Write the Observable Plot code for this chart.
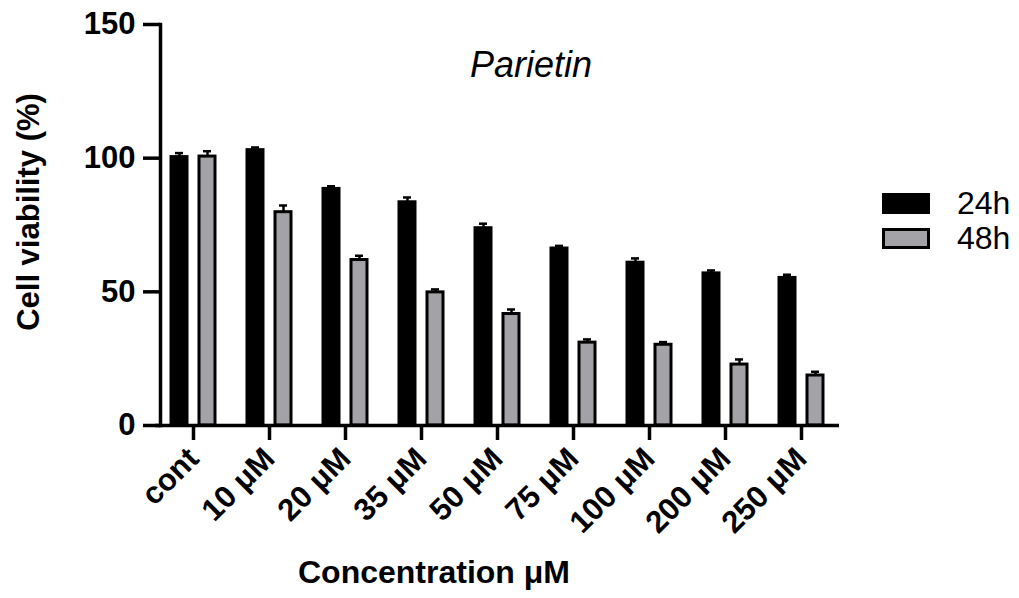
<!DOCTYPE html>
<html><head><meta charset="utf-8">
<script src="https://cdn.jsdelivr.net/npm/d3@7"></script>
<script src="https://cdn.jsdelivr.net/npm/@observablehq/plot@0.6"></script>
<style>
html,body{margin:0;padding:0;background:#fff;}
#chart svg{display:block;}
</style></head><body><div id="chart"></div>
<script>
const concentrations = ["cont","10 μM","20 μM","35 μM","50 μM","75 μM","100 μM","200 μM","250 μM"];
const series = ["24h","48h"];
const viability24 = [100.4, 103.0, 88.5, 83.5, 73.8, 66.2, 60.9, 56.9, 55.2];
const viability48 = [100.6, 79.8, 61.9, 49.8, 41.7, 31.0, 30.2, 22.8, 18.7];
const sem24 = [1.5, 1.0, 1.0, 1.8, 1.7, 1.0, 1.6, 1.1, 1.2];
const sem48 = [2.0, 2.5, 1.6, 1.1, 1.7, 1.2, 1.0, 1.9, 1.4];
const yTicks = [0, 50, 100, 150];
const colors = ["#000000", "#a3a3a7"];

const rows = concentrations.flatMap((c, i) => [
  {conc: c, time: series[0], value: viability24[i], err: sem24[i]},
  {conc: c, time: series[1], value: viability48[i], err: sem48[i]}
]);

const font = "'Liberation Sans', Arial, Helvetica, sans-serif";

const chart = Plot.plot({
  width: 1019, height: 598,
  marginLeft: 155, marginRight: 180, marginTop: 24, marginBottom: 173,
  style: {fontFamily: font, fontSize: "31px", fontWeight: "bold", color: "#000", background: "#fff", overflow: "visible"},
  fx: {domain: concentrations, padding: 0, label: null},
  x: {domain: series, paddingInner: 0.44, paddingOuter: 0.55, axis: null},
  y: {domain: [0, 150], label: null},
  color: {domain: series, range: colors},
  marks: [
    Plot.axisFx({anchor: "bottom", tickSize: 15, tickRotate: -45, tickPadding: 13, strokeWidth: 3.5, label: null}),
    Plot.axisY(yTicks, {anchor: "left", tickSize: 17, tickPadding: 8, strokeWidth: 3.5, label: null, dx: 5}),
    Plot.frame({anchor: "left", facetAnchor: "left", strokeWidth: 3.5, dx: 5}),
    Plot.ruleX(rows, {fx: "conc", x: "time", y1: "value", y2: d => d.value + d.err, stroke: "#000", strokeWidth: 2.5}),
    Plot.tickY(rows, {fx: "conc", x: "time", y: d => d.value + d.err, stroke: "#000", strokeWidth: 2.5, insetLeft: 4, insetRight: 4}),
    Plot.barY(rows, {fx: "conc", x: "time", y: "value", fill: "time", stroke: "#000", strokeWidth: 3}),
    Plot.ruleY([0], {stroke: "#000", strokeWidth: 3.5})
  ]
});

document.getElementById("chart").appendChild(chart);
const svg = d3.select(chart);
const color = chart.scale("color");

svg.append("text")
  .attr("transform", "translate(28,212) rotate(-90)")
  .attr("text-anchor", "middle").attr("dominant-baseline", "central")
  .style("font-family", font).style("font-size", "31px").style("font-weight", "bold")
  .text("Cell viability (%)");

svg.append("text")
  .attr("x", 434).attr("y", 583).attr("text-anchor", "middle")
  .style("font-family", font).style("font-size", "32px").style("font-weight", "bold")
  .text("Concentration μM");

svg.append("text")
  .attr("x", 531).attr("y", 77).attr("text-anchor", "middle")
  .style("font-family", font).style("font-size", "36px").style("font-weight", "normal").style("font-style", "italic")
  .text("Parietin");

const leg = svg.append("g");
series.forEach((s, i) => {
  const y0 = 193 + i * 35;
  leg.append("rect")
    .attr("x", 883.5).attr("y", y0 + 1.5).attr("width", 45).attr("height", 18)
    .attr("fill", color.apply(s)).attr("stroke", "#000").attr("stroke-width", 3);
  leg.append("text")
    .attr("x", 957).attr("y", y0 + 21).attr("text-anchor", "start")
    .style("font-family", font).style("font-size", "32px").style("font-weight", "normal")
    .text(s);
});
</script>
</body></html>
